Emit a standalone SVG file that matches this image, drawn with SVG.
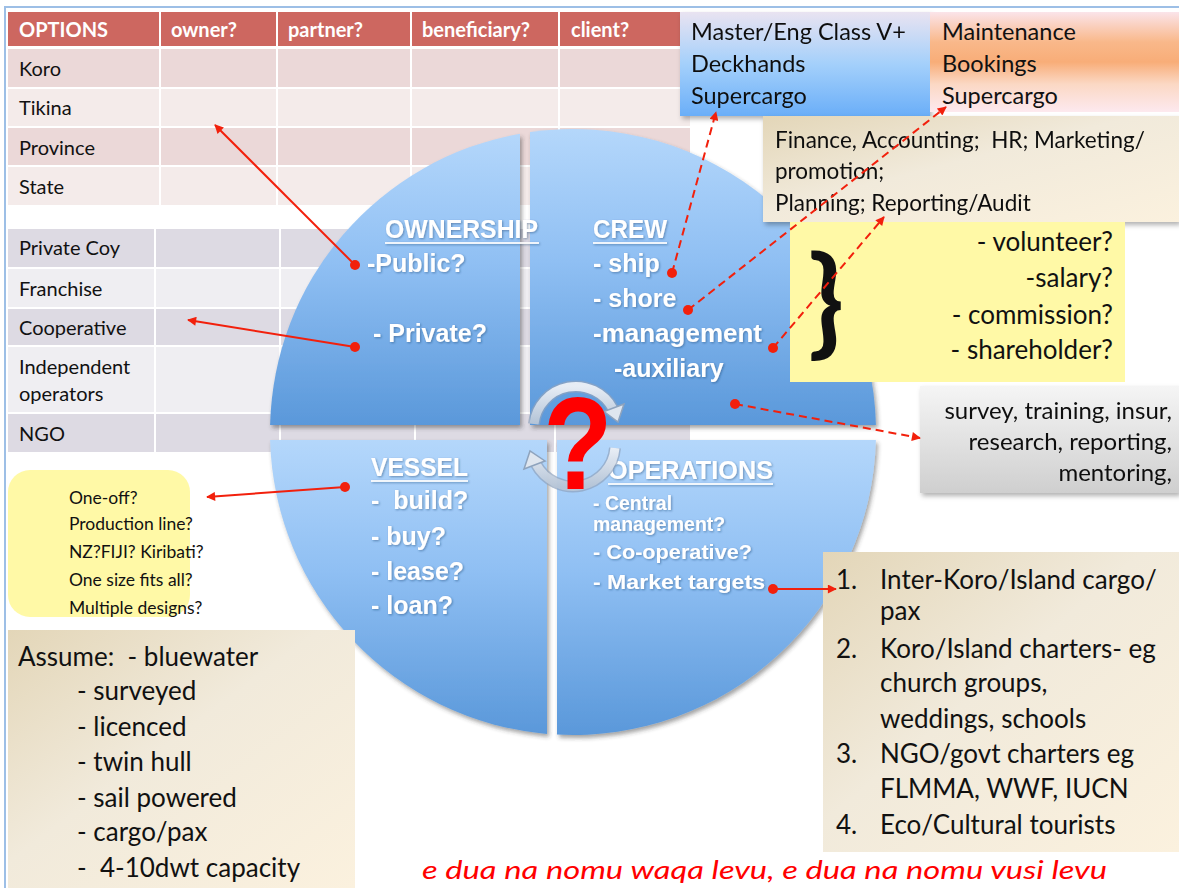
<svg xmlns="http://www.w3.org/2000/svg" width="1179" height="888" viewBox="0 0 1179 888">
  <style>
    .cal { font-family: Lato, "Open Sans", "Liberation Sans", sans-serif; fill: #111; }
    .hdr { font-family: Lato, "Liberation Sans", sans-serif; font-weight: bold; font-size: 20px; fill: #fff; }
    .tc { font-size: 20px; }
    .q { font-family: "Liberation Sans", Arial, sans-serif; font-weight: bold; fill: #fff; }
    .q25 { font-size: 25px; }
    .q21 { font-size: 19.5px; }
    .ul { stroke: #fff; stroke-width: 2; opacity: 0.85; }
    .cell-r1 { fill: #ebd8d8; }
    .cell-r2 { fill: #f4ebea; }
    .cell-g1 { fill: #dddae3; }
    .cell-g2 { fill: #efeef2; }
    .sep { stroke: #fff; stroke-width: 2; }
    .link { stroke: #f2200c; stroke-width: 2; fill: none; }
    .dash { stroke-dasharray: 8 5; }
    .dot { fill: #f2200c; }
  </style>
  <defs>
    <linearGradient id="quad" x1="0" y1="0" x2="0" y2="1">
      <stop offset="0" stop-color="#b4d7fb"/>
      <stop offset="0.45" stop-color="#8fbff3"/>
      <stop offset="1" stop-color="#5a98da"/>
    </linearGradient>
    <linearGradient id="blueBox" x1="0" y1="0" x2="0" y2="1">
      <stop offset="0" stop-color="#e9e3f1"/>
      <stop offset="0.5" stop-color="#a4d0fb"/>
      <stop offset="1" stop-color="#6aaef8"/>
    </linearGradient>
    <linearGradient id="orangeBox" x1="0" y1="0" x2="0" y2="1">
      <stop offset="0" stop-color="#fbe4ea"/>
      <stop offset="0.3" stop-color="#f9b88a"/>
      <stop offset="0.5" stop-color="#f8ad78"/>
      <stop offset="0.72" stop-color="#fbd8c4"/>
      <stop offset="1" stop-color="#fde9ef"/>
    </linearGradient>
    <linearGradient id="beige" x1="0" y1="0" x2="1" y2="1">
      <stop offset="0" stop-color="#e3d6b8"/>
      <stop offset="0.45" stop-color="#f1eadb"/>
      <stop offset="1" stop-color="#fbf1de"/>
    </linearGradient>
    <linearGradient id="greyBox" x1="0" y1="0" x2="0" y2="1">
      <stop offset="0" stop-color="#f5f5f5"/>
      <stop offset="1" stop-color="#cfcfcf"/>
    </linearGradient>
    <linearGradient id="cyc" x1="0" y1="0" x2="0" y2="1">
      <stop offset="0" stop-color="#f2f5fa"/>
      <stop offset="1" stop-color="#b9c7d8"/>
    </linearGradient>
    <filter id="sh" x="-10%" y="-10%" width="125%" height="130%">
      <feDropShadow dx="2" dy="3" stdDeviation="2.5" flood-color="#000" flood-opacity="0.3"/>
    </filter>
    <filter id="qsh" x="-10%" y="-10%" width="125%" height="125%">
      <feDropShadow dx="2" dy="3" stdDeviation="2" flood-color="#333" flood-opacity="0.45"/>
    </filter>
    <filter id="tsh" x="-5%" y="-20%" width="110%" height="150%">
      <feDropShadow dx="1" dy="1" stdDeviation="0.8" flood-color="#1a3a66" flood-opacity="0.45"/>
    </filter>
    <marker id="ah" viewBox="0 0 10 10" refX="9" refY="5" markerWidth="12" markerHeight="9" markerUnits="userSpaceOnUse" orient="auto">
      <path d="M0,0 L10,5 L0,10 z" fill="#f2200c"/>
    </marker>
  </defs>

  <rect width="1179" height="888" fill="#fff"/>
  <!-- slide frame -->
  <path d="M5,888 V7 H1179" fill="none" stroke="#9dbfe6" stroke-width="2"/>

  <!-- stakeholder table -->
  <g id="table-stakeholders">
    <rect x="8" y="12" width="682" height="34" fill="#cd6760"/>
    <rect x="8" y="49" width="682" height="39" class="cell-r1"/>
    <rect x="8" y="88" width="682" height="39" class="cell-r2"/>
    <rect x="8" y="127" width="682" height="39" class="cell-r1"/>
    <rect x="8" y="166" width="682" height="39" class="cell-r2"/>
    <line x1="8" y1="47.5" x2="690" y2="47.5" class="sep" stroke-width="3"/>
    <line x1="8" y1="88" x2="690" y2="88" class="sep"/>
    <line x1="8" y1="127" x2="690" y2="127" class="sep"/>
    <line x1="8" y1="166" x2="690" y2="166" class="sep"/>
    <line x1="160" y1="12" x2="160" y2="205" class="sep"/>
    <line x1="277" y1="12" x2="277" y2="205" class="sep"/>
    <line x1="411" y1="12" x2="411" y2="205" class="sep"/>
    <line x1="559" y1="12" x2="559" y2="205" class="sep"/>
    <text x="19" y="37" class="hdr">OPTIONS</text>
    <text x="171" y="37" class="hdr">owner?</text>
    <text x="288" y="37" class="hdr">partner?</text>
    <text x="422" y="37" class="hdr">beneficiary?</text>
    <text x="571" y="37" class="hdr">client?</text>
    <text x="19" y="76" class="cal tc">Koro</text>
    <text x="19" y="115" class="cal tc">Tikina</text>
    <text x="19" y="155" class="cal tc">Province</text>
    <text x="19" y="194" class="cal tc">State</text>
  </g>

  <!-- structure table -->
  <g id="table-structures">
    <rect x="8" y="229" width="682" height="39" class="cell-g1"/>
    <rect x="8" y="268" width="682" height="40" class="cell-g2"/>
    <rect x="8" y="308" width="682" height="38" class="cell-g1"/>
    <rect x="8" y="346" width="682" height="67" class="cell-g2"/>
    <rect x="8" y="413" width="682" height="39" class="cell-g1"/>
    <line x1="8" y1="268" x2="690" y2="268" class="sep"/>
    <line x1="8" y1="308" x2="690" y2="308" class="sep"/>
    <line x1="8" y1="346" x2="690" y2="346" class="sep"/>
    <line x1="8" y1="413" x2="690" y2="413" class="sep"/>
    <line x1="155" y1="229" x2="155" y2="452" class="sep"/>
    <line x1="280" y1="229" x2="280" y2="452" class="sep"/>
    <line x1="415" y1="229" x2="415" y2="452" class="sep"/>
    <line x1="555" y1="229" x2="555" y2="452" class="sep"/>
    <text x="19" y="255" class="cal tc">Private Coy</text>
    <text x="19" y="296" class="cal tc">Franchise</text>
    <text x="19" y="335" class="cal tc">Cooperative</text>
    <text x="19" y="374" class="cal tc">Independent</text>
    <text x="19" y="401" class="cal tc">operators</text>
    <text x="19" y="441" class="cal tc">NGO</text>
  </g>

  <!-- four-part wheel -->
  <g id="wheel" filter="url(#qsh)">
    <path id="q-ownership" d="M520,425 V133.7 A303,303 0 0 0 270.1,425 Z" fill="url(#quad)"/>
    <path id="q-crew" d="M530,425 V132.1 A303,303 0 0 1 875.9,425 Z" fill="url(#quad)"/>
    <path id="q-vessel" d="M547,440 H270.1 A303,303 0 0 0 547,733.9 Z" fill="url(#quad)"/>
    <path id="q-operations" d="M557,440 H875.9 A303,303 0 0 1 557,734.6 Z" fill="url(#quad)"/>
  </g>

  <g id="wheel-text" filter="url(#tsh)">
    <text x="385" y="238" class="q q25" textLength="153" lengthAdjust="spacingAndGlyphs">OWNERSHIP</text>
    <line x1="385" y1="243" x2="539" y2="243" class="ul"/>
    <text x="367" y="272" class="q q25">-Public?</text>
    <text x="373" y="342" class="q q25">- Private?</text>

    <text x="593" y="238" class="q q25" textLength="74" lengthAdjust="spacingAndGlyphs">CREW</text>
    <line x1="593" y1="243" x2="667" y2="243" class="ul"/>
    <text x="593" y="272" class="q q25">- ship</text>
    <text x="593" y="307" class="q q25">- shore</text>
    <text x="593" y="342" class="q q25" textLength="169" lengthAdjust="spacingAndGlyphs">-management</text>
    <text x="614" y="377" class="q q25">-auxiliary</text>

    <text x="371" y="476" class="q q25" textLength="97" lengthAdjust="spacingAndGlyphs">VESSEL</text>
    <line x1="371" y1="481" x2="468" y2="481" class="ul"/>
    <text x="371" y="509" class="q q25" xml:space="preserve">-  build?</text>
    <text x="371" y="545" class="q q25">- buy?</text>
    <text x="371" y="580" class="q q25">- lease?</text>
    <text x="371" y="614" class="q q25">- loan?</text>

    <text x="608" y="479" class="q q25" textLength="165" lengthAdjust="spacingAndGlyphs">OPERATIONS</text>
    <line x1="608" y1="484" x2="773" y2="484" class="ul"/>
    <text x="593" y="510" class="q q21">- Central</text>
    <text x="593" y="531" class="q q21">management?</text>
    <text x="593" y="559" class="q q21" textLength="159" lengthAdjust="spacingAndGlyphs">- Co-operative?</text>
    <text x="593" y="589" class="q q21" textLength="172" lengthAdjust="spacingAndGlyphs">- Market targets</text>
  </g>

  <!-- cycle arrows and question mark at the hub -->
  <g id="hub">
    <path d="M534,424 A42,42 0 0 1 613,409" fill="none" stroke="#8ea3bd" stroke-width="12" opacity="0.7"/>
    <path d="M534,424 A42,42 0 0 1 613,409" fill="none" stroke="url(#cyc)" stroke-width="9" opacity="0.9"/>
    <polygon points="624,404 604,411.5 618,422" fill="#dfe6ef" stroke="#8ea3bd" stroke-width="1.5"/>
    <path d="M615,448 A42,42 0 0 1 536,464" fill="none" stroke="#8ea3bd" stroke-width="12" opacity="0.7"/>
    <path d="M615,448 A42,42 0 0 1 536,464" fill="none" stroke="url(#cyc)" stroke-width="9" opacity="0.9"/>
    <polygon points="524,469 545,461 530,451" fill="#dfe6ef" stroke="#8ea3bd" stroke-width="1.5"/>
    <text transform="translate(578 489) scale(0.86 1)" text-anchor="middle" font-family="Liberation Sans, Arial, sans-serif" font-weight="bold" font-size="132" fill="#ff0000">?</text>
  </g>

  <!-- crew role boxes -->
  <g id="box-ship-crew" filter="url(#sh)">
    <rect x="680" y="12" width="250" height="104" fill="url(#blueBox)"/>
    <text x="691" y="40" class="cal" font-size="23.5">Master/Eng Class V+</text>
    <text x="691" y="72" class="cal" font-size="23.5">Deckhands</text>
    <text x="691" y="104" class="cal" font-size="23.5">Supercargo</text>
  </g>
  <g id="box-shore-crew">
    <rect x="930" y="12" width="249" height="100" fill="url(#orangeBox)"/>
    <text x="942" y="40" class="cal" font-size="23.5">Maintenance</text>
    <text x="942" y="72" class="cal" font-size="23.5">Bookings</text>
    <text x="942" y="104" class="cal" font-size="23.5">Supercargo</text>
  </g>
  <g id="box-management" filter="url(#sh)">
    <rect x="763" y="116" width="416" height="106" fill="url(#beige)"/>
    <text x="775" y="148" class="cal" font-size="22.5" xml:space="preserve">Finance, Accounting;  HR; Marketing/</text>
    <text x="775" y="179" class="cal" font-size="22.5">promotion;</text>
    <text x="775" y="211" class="cal" font-size="22.5">Planning; Reporting/Audit</text>
  </g>
  <g id="box-remuneration">
    <rect x="790" y="222" width="335" height="160" fill="#fff9a6"/>
    <text x="826" y="343" text-anchor="middle" class="cal" font-size="118" font-weight="bold">}</text>
    <text x="1113" y="251" text-anchor="end" class="cal" font-size="26">- volunteer?</text>
    <text x="1113" y="287" text-anchor="end" class="cal" font-size="26">-salary?</text>
    <text x="1113" y="324" text-anchor="end" class="cal" font-size="26">- commission?</text>
    <text x="1113" y="359" text-anchor="end" class="cal" font-size="26">- shareholder?</text>
  </g>
  <g id="box-auxiliary" filter="url(#sh)">
    <rect x="920" y="386" width="259" height="107" fill="url(#greyBox)"/>
    <text x="1172" y="419" text-anchor="end" class="cal" font-size="24">survey, training, insur,</text>
    <text x="1172" y="450" text-anchor="end" class="cal" font-size="24">research, reporting,</text>
    <text x="1172" y="481" text-anchor="end" class="cal" font-size="24">mentoring,</text>
  </g>

  <!-- vessel sourcing questions -->
  <g id="box-vessel">
    <rect x="8" y="470" width="182" height="147" rx="22" fill="#fff9a6"/>
    <text x="69" y="504" class="cal" font-size="17.5">One-off?</text>
    <text x="69" y="530" class="cal" font-size="17.5">Production line?</text>
    <text x="69" y="558" class="cal" font-size="17.5">NZ?FIJI? Kiribati?</text>
    <text x="69" y="586" class="cal" font-size="17.5">One size fits all?</text>
    <text x="69" y="614" class="cal" font-size="17.5">Multiple designs?</text>
  </g>

  <!-- assumptions -->
  <g id="box-assume">
    <rect x="8" y="630" width="347" height="258" fill="url(#beige)"/>
    <text x="18" y="666" class="cal" font-size="26" xml:space="preserve">Assume:  - bluewater</text>
    <text x="77" y="700" class="cal" font-size="26">- surveyed</text>
    <text x="77" y="736" class="cal" font-size="26">- licenced</text>
    <text x="77" y="771" class="cal" font-size="26">- twin hull</text>
    <text x="77" y="807" class="cal" font-size="26">- sail powered</text>
    <text x="77" y="841" class="cal" font-size="26">- cargo/pax</text>
    <text x="77" y="877" class="cal" font-size="26" xml:space="preserve">-  4-10dwt capacity</text>
  </g>

  <!-- market targets -->
  <g id="box-markets">
    <rect x="823" y="552" width="356" height="300" fill="url(#beige)"/>
    <g class="cal" font-size="26">
      <text x="836" y="589">1.</text>
      <text x="880" y="589">Inter-Koro/Island cargo/</text>
      <text x="880" y="620">pax</text>
      <text x="836" y="658">2.</text>
      <text x="880" y="658">Koro/Island charters- eg</text>
      <text x="880" y="692">church groups,</text>
      <text x="880" y="728">weddings, schools</text>
      <text x="836" y="763">3.</text>
      <text x="880" y="763">NGO/govt charters eg</text>
      <text x="880" y="798">FLMMA, WWF, IUCN</text>
      <text x="836" y="834">4.</text>
      <text x="880" y="834">Eco/Cultural tourists</text>
    </g>
  </g>

  <text id="motto" x="422" y="879" font-family="Lato, 'Open Sans', sans-serif" font-style="italic" font-size="26" fill="#ff0000" textLength="685" lengthAdjust="spacingAndGlyphs">e dua na nomu waqa levu, e dua na nomu vusi levu</text>

  <!-- connectors -->
  <g id="connectors">
    <line x1="355" y1="265" x2="215" y2="125" class="link" marker-end="url(#ah)"/>
    <line x1="355" y1="347" x2="188" y2="320" class="link" marker-end="url(#ah)"/>
    <line x1="345" y1="487" x2="207" y2="497" class="link" marker-end="url(#ah)"/>
    <line x1="672" y1="273" x2="716" y2="112" class="link dash" marker-end="url(#ah)"/>
    <line x1="688" y1="310" x2="946" y2="107" class="link dash" marker-end="url(#ah)"/>
    <line x1="773" y1="348" x2="884" y2="217" class="link dash" marker-end="url(#ah)"/>
    <line x1="735" y1="404" x2="920" y2="438" class="link dash" marker-end="url(#ah)"/>
    <line x1="773" y1="589" x2="836" y2="589" class="link" marker-end="url(#ah)"/>
    <circle cx="355" cy="265" r="5" class="dot"/>
    <circle cx="355" cy="347" r="5" class="dot"/>
    <circle cx="345" cy="487" r="5" class="dot"/>
    <circle cx="672" cy="273" r="5" class="dot"/>
    <circle cx="688" cy="310" r="5" class="dot"/>
    <circle cx="773" cy="348" r="5" class="dot"/>
    <circle cx="735" cy="404" r="5" class="dot"/>
    <circle cx="773" cy="589" r="5" class="dot"/>
  </g>
</svg>
